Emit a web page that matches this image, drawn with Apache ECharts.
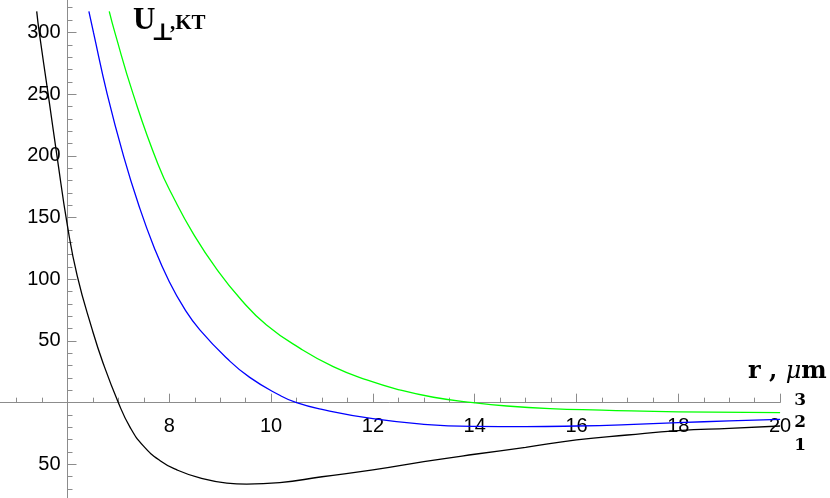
<!DOCTYPE html>
<html>
<head>
<meta charset="utf-8">
<script src="https://cdn.jsdelivr.net/npm/echarts@6/dist/echarts.min.js"></script>
<style>
  html, body { margin: 0; padding: 0; background: #fff; }
  #chart { width: 830px; height: 498px; }
</style>
</head>
<body>
<div id="chart"></div>
<script>
// r, um  ->  U_perp, kT
const curve1 = [
  [5.395, 317], [5.445, 300], [5.62, 250], [5.80, 198], [6.0, 143], [6.19, 103],
  [6.48, 60], [6.70, 32], [7.0, 0], [7.23, -20], [7.49, -35], [7.82, -47],
  [8.15, -54.5], [8.60, -61], [9.13, -65.2], [9.52, -66], [10.17, -64.8],
  [11, -60], [12, -54.5], [13, -47.8], [14, -41.8], [15, -36.2], [16, -30.2],
  [17, -26.2], [18, -22.7], [19, -20.8], [20, -18.9]
]
const curve2 = [
  [6.42, 317], [6.51, 300], [6.78, 250], [7.10, 200], [7.40, 160], [7.70, 126],
  [8.00, 98], [8.30, 76], [8.60, 59], [9.13, 36], [9.58, 20.5], [10.17, 6],
  [10.5, 0], [11, -5.5], [12, -13], [13, -17.5], [14, -19.2], [15, -19.4],
  [16, -18.9], [17, -17.8], [18, -16.2], [19, -14.8], [20, -13.5]
]
const curve3 = [
  [6.82, 317], [6.93, 300], [7.29, 250], [7.78, 193], [8.11, 164],
  [8.47, 137], [8.90, 110], [9.42, 83], [9.91, 63], [10.57, 44],
  [11.22, 29.2], [11.88, 18.4], [12.53, 10.3], [13.19, 4.4], [13.97, 0],
  [14.63, -2.7], [15.48, -4.8], [16.5, -6], [18, -7.5], [20, -8]
]
const curveNames = ['1', '2', '3']
const curveColors = ['#000000', '#0000ff', '#00ff00']
const labelShift = [20, 3, -12] // label dy from the line end

const xMin = 4, xMax = 20, xStep = 2, xCross = 6
const yMin = -100, yMax = 350, yStep = 50
const pxPerX = 50.9 // one micron on screen
const pxPerY = 1.2343 // one kT on screen

const axisGray = '#8c8c8c'
const serif = '"DejaVu Serif", "Liberation Serif", serif'
const sans = '"Liberation Sans", Arial, sans-serif'

const myChart = echarts.init(document.getElementById('chart'))

function makeSeries(data, i) {
  return {
    name: curveNames[i],
    type: 'line',
    data: data,
    showSymbol: false,
    smooth: 0.5,
    clip: true,
    lineStyle: { color: curveColors[i], width: 1.3 },
    itemStyle: { color: curveColors[i] },
    endLabel: {
      show: true,
      formatter: curveNames[i],
      distance: 0,
      align: 'center',
      verticalAlign: 'middle',
      offset: [20, labelShift[i]],
      color: '#000',
      fontFamily: serif,
      fontWeight: 'bold',
      fontSize: 17
    }
  }
}

myChart.setOption({
  animation: false,
  grid: {
    left: -34.3,
    right: 49.9,
    top: -29.3,
    bottom: -28.1,
    outerBoundsMode: 'none'
  },
  xAxis: {
    type: 'value',
    min: xMin,
    max: xMax,
    interval: xStep,
    position: 'bottom',
    offset: yMin * pxPerY, // axis sits at U = 0
    splitLine: { show: false },
    axisLine: { onZero: false, lineStyle: { color: axisGray, width: 1 } },
    axisTick: { inside: true, length: 9, lineStyle: { color: axisGray } },
    minorTick: { show: true, splitNumber: 4, length: 5, lineStyle: { color: axisGray } },
    axisLabel: {
      show: true,
      margin: 14,
      color: '#000',
      fontSize: 20,
      fontFamily: sans,
      hideOverlap: false,
      formatter: v => (v >= 8 ? String(v) : '')
    }
  },
  yAxis: {
    type: 'value',
    min: yMin,
    max: yMax,
    interval: yStep,
    offset: -(xCross - xMin) * pxPerX, // axis crosses at r = 6
    splitLine: { show: false },
    axisLine: { show: true, onZero: false, lineStyle: { color: axisGray, width: 1 } },
    axisTick: { show: true, inside: true, length: 9, lineStyle: { color: axisGray } },
    minorTick: { show: true, splitNumber: 5, length: 5, lineStyle: { color: axisGray } },
    axisLabel: {
      margin: 7,
      color: '#000',
      fontSize: 20,
      fontFamily: sans,
      formatter: v => (v === 0 ? '' : String(Math.abs(v)))
    }
  },
  graphic: [
    {
      type: 'text', left: 133, top: 5,
      style: { text: 'U', font: 'bold 31px "Liberation Serif", serif', fill: '#000' }
    },
    {
      type: 'text', left: 151, top: 22,
      style: { text: '⊥', font: 'bold 24px "DejaVu Serif", serif', fill: '#000' }
    },
    {
      type: 'text', left: 170, top: 13,
      style: { text: ',KT', font: 'bold 21px "Liberation Serif", serif', fill: '#000' }
    },
    {
      type: 'text', left: 748, top: 360,
      style: {
        text: '{a|r , }{b|μ}{a|m}',
        rich: {
          a: { fontFamily: serif, fontWeight: 'bold', fontSize: 24, fill: '#000' },
          b: { fontFamily: serif, fontStyle: 'italic', fontSize: 24, fill: '#000' }
        }
      }
    }
  ],
  series: [curve1, curve2, curve3].map(makeSeries)
})
</script>
</body>
</html>
